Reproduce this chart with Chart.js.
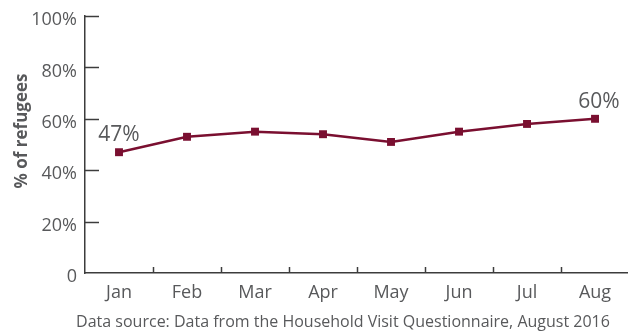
<!DOCTYPE html>
<html>
<head>
<meta charset="utf-8">
<script src="https://cdn.jsdelivr.net/npm/chart.js@4.4.1/dist/chart.umd.min.js"></script>
<style>
  html, body { margin: 0; padding: 0; background: #ffffff; }
  #wrap { width: 628px; height: 334px; position: relative; }
</style>
</head>
<body>
<div id="wrap"><canvas id="refugeeChart"></canvas></div>
<script>
// values
var months = ['Jan', 'Feb', 'Mar', 'Apr', 'May', 'Jun', 'Jul', 'Aug'];
var shares = [47, 53, 55, 54, 51, 55, 58, 60];
var yTicks = [0, 20, 40, 60, 80, 100];
var yTitle = '% of refugees';
var sourceNote = 'Data source: Data from the Household Visit Questionnaire, August 2016';

var lineColor = '#7a0f30';
var textColor = '#58595b';
var axisColor = '#3c3c3c';
var fontFamily = '"Open Sans", "Noto Sans", sans-serif';

var points = shares.map(function (v, i) { return { x: i, y: v }; });

// tick marks drawn inside the plot, value labels, axis title, source note
var decorPlugin = {
  id: 'decor',
  afterDraw: function (chart) {
    var ctx = chart.ctx;
    var x = chart.scales.x, y = chart.scales.y;
    var area = chart.chartArea;
    ctx.save();
    ctx.strokeStyle = axisColor;
    ctx.lineWidth = 1.5;
    yTicks.forEach(function (v) {
      if (v === 0) return;
      var py = Math.round(y.getPixelForValue(v)) + 0.5;
      ctx.beginPath();
      ctx.moveTo(area.left, py);
      ctx.lineTo(area.left + 14, py);
      ctx.stroke();
    });
    for (var i = 0; i < months.length - 1; i++) {
      var px = Math.round(x.getPixelForValue(i + 0.5)) + 0.5;
      ctx.beginPath();
      ctx.moveTo(px, area.bottom);
      ctx.lineTo(px, area.bottom - 6);
      ctx.stroke();
    }

    var meta = chart.getDatasetMeta(0);
    ctx.fillStyle = textColor;
    ctx.font = '21px ' + fontFamily;
    ctx.textAlign = 'center';
    ctx.textBaseline = 'middle';
    [0, shares.length - 1].forEach(function (i) {
      var pt = meta.data[i];
      var dx = i === 0 ? 0 : 4;
      ctx.fillText(shares[i] + '%', pt.x + dx, pt.y - 17);
    });

    ctx.save();
    ctx.translate(22, 131);
    ctx.rotate(-Math.PI / 2);
    ctx.font = 'bold 17px ' + fontFamily;
    ctx.fillText(yTitle, 0, 0);
    ctx.restore();

    ctx.font = '16px ' + fontFamily;
    ctx.fillText(sourceNote, 343, 322);
    ctx.restore();
  }
};

new Chart(document.getElementById('refugeeChart'), {
  type: 'line',
  data: {
    datasets: [{
      data: points,
      borderColor: lineColor,
      backgroundColor: lineColor,
      borderWidth: 2.5,
      tension: 0,
      pointStyle: 'rect',
      pointRadius: 5.6,
      pointBorderWidth: 0,
      pointHoverRadius: 5.6
    }]
  },
  options: {
    responsive: true,
    maintainAspectRatio: false,
    animation: false,
    layout: { autoPadding: false, padding: { top: 16, left: 0, right: 0, bottom: 0 } },
    plugins: { legend: { display: false }, tooltip: { enabled: false } },
    scales: {
      x: {
        type: 'linear',
        bounds: 'data',
        min: -0.5,
        max: 7.485,
        grid: { display: false, drawTicks: false },
        border: { display: true, color: axisColor, width: 1.5 },
        afterFit: function (s) {
          s.height = 61;
          s.paddingLeft = 0;
          s.paddingRight = 0;
        },
        ticks: {
          stepSize: 0.5,
          autoSkip: false,
          includeBounds: false,
          maxRotation: 0,
          padding: 9,
          color: textColor,
          font: { family: fontFamily, size: 18 },
          callback: function (v) { return Number.isInteger(v) ? months[v] : ''; }
        }
      },
      y: {
        min: 0,
        max: 100,
        grid: { display: false, drawTicks: false },
        border: { display: true, color: axisColor, width: 1.5 },
        afterFit: function (s) { s.width = 85; },
        afterBuildTicks: function (s) { s.ticks = yTicks.map(function (v) { return { value: v }; }); },
        ticks: {
          padding: 8,
          color: textColor,
          font: { family: fontFamily, size: 18, lineHeight: '8px' },
          // blank first line nudges each label a few px below its tick, as in the reference
          callback: function (v) { return ['', v === 0 ? '0' : v + '%']; }
        }
      }
    }
  },
  plugins: [decorPlugin]
});
</script>
</body>
</html>
